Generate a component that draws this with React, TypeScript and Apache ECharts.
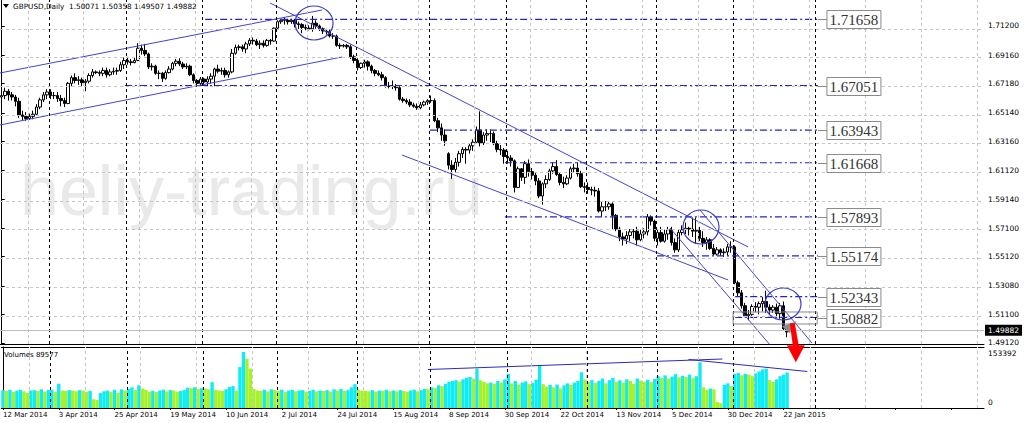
import React, { useEffect, useRef } from 'react';
import * as echarts from 'echarts';

const SYMBOL_TITLE = 'GBPUSD,Daily';
const CLOSED_DAYS = ['2014-12-25', '2015-01-01'];
const MONTH_NAMES = ['Jan', 'Feb', 'Mar', 'Apr', 'May', 'Jun', 'Jul', 'Aug', 'Sep', 'Oct', 'Nov', 'Dec'];
const SLOT_COUNT = 282;
const LABEL_INTERVAL = 15;

// [open, close, low, high]
const candles: number[][] = [
  [1.6625, 1.6635, 1.6590, 1.6660], [1.6635, 1.6665, 1.6610, 1.6690], [1.6665, 1.6640, 1.6600, 1.6680],
  [1.6640, 1.6625, 1.6600, 1.6660], [1.6625, 1.6595, 1.6560, 1.6640], [1.6595, 1.6500, 1.6480, 1.6620],
  [1.6500, 1.6490, 1.6460, 1.6530], [1.6490, 1.6475, 1.6460, 1.6520], [1.6475, 1.6490, 1.6465, 1.6510],
  [1.6490, 1.6505, 1.6470, 1.6530], [1.6505, 1.6555, 1.6500, 1.6575], [1.6555, 1.6605, 1.6540, 1.6620],
  [1.6605, 1.6640, 1.6590, 1.6660], [1.6640, 1.6660, 1.6610, 1.6680], [1.6660, 1.6635, 1.6610, 1.6680],
  [1.6635, 1.6635, 1.6610, 1.6660], [1.6635, 1.6615, 1.6590, 1.6660], [1.6615, 1.6600, 1.6560, 1.6640],
  [1.6600, 1.6580, 1.6555, 1.6620], [1.6580, 1.6720, 1.6575, 1.6730], [1.6720, 1.6760, 1.6700, 1.6775],
  [1.6760, 1.6740, 1.6720, 1.6790], [1.6740, 1.6745, 1.6710, 1.6770], [1.6745, 1.6725, 1.6700, 1.6760],
  [1.6725, 1.6735, 1.6665, 1.6750], [1.6735, 1.6775, 1.6720, 1.6790], [1.6775, 1.6800, 1.6760, 1.6820],
  [1.6800, 1.6795, 1.6785, 1.6810], [1.6795, 1.6790, 1.6770, 1.6810], [1.6790, 1.6810, 1.6770, 1.6830],
  [1.6810, 1.6780, 1.6760, 1.6830], [1.6780, 1.6800, 1.6770, 1.6820], [1.6800, 1.6805, 1.6780, 1.6830],
  [1.6805, 1.6810, 1.6780, 1.6830], [1.6810, 1.6850, 1.6800, 1.6870], [1.6850, 1.6880, 1.6820, 1.6900],
  [1.6880, 1.6870, 1.6850, 1.6905], [1.6870, 1.6865, 1.6845, 1.6890], [1.6865, 1.6880, 1.6860, 1.6900],
  [1.6880, 1.6965, 1.6875, 1.7000], [1.6965, 1.6950, 1.6920, 1.6990], [1.6950, 1.6925, 1.6910, 1.6995],
  [1.6925, 1.6835, 1.6820, 1.6935], [1.6835, 1.6840, 1.6810, 1.6860], [1.6840, 1.6790, 1.6780, 1.6850],
  [1.6790, 1.6790, 1.6750, 1.6810], [1.6790, 1.6755, 1.6730, 1.6800], [1.6755, 1.6795, 1.6745, 1.6810],
  [1.6795, 1.6820, 1.6790, 1.6840], [1.6820, 1.6860, 1.6810, 1.6870], [1.6860, 1.6875, 1.6840, 1.6890],
  [1.6875, 1.6855, 1.6840, 1.6895], [1.6855, 1.6835, 1.6820, 1.6870], [1.6835, 1.6840, 1.6820, 1.6860],
  [1.6840, 1.6780, 1.6770, 1.6850], [1.6780, 1.6740, 1.6720, 1.6790], [1.6740, 1.6720, 1.6695, 1.6750],
  [1.6720, 1.6750, 1.6705, 1.6765], [1.6750, 1.6730, 1.6710, 1.6760], [1.6730, 1.6750, 1.6700, 1.6770],
  [1.6750, 1.6770, 1.6720, 1.6790], [1.6770, 1.6820, 1.6700, 1.6830], [1.6820, 1.6805, 1.6790, 1.6850],
  [1.6805, 1.6810, 1.6780, 1.6830], [1.6810, 1.6780, 1.6760, 1.6830], [1.6780, 1.6800, 1.6760, 1.6810],
  [1.6800, 1.6930, 1.6790, 1.6960], [1.6930, 1.6970, 1.6920, 1.6990], [1.6970, 1.6975, 1.6950, 1.6990],
  [1.6975, 1.6960, 1.6940, 1.6990], [1.6960, 1.6995, 1.6930, 1.7010], [1.6995, 1.7020, 1.6980, 1.7035],
  [1.7020, 1.7015, 1.6990, 1.7040], [1.7015, 1.6990, 1.6980, 1.7030], [1.6990, 1.7000, 1.6960, 1.7020],
  [1.7000, 1.6985, 1.6970, 1.7020], [1.6985, 1.7020, 1.6975, 1.7030], [1.7020, 1.7015, 1.6990, 1.7030],
  [1.7015, 1.7105, 1.7010, 1.7110], [1.7105, 1.7150, 1.7095, 1.7160], [1.7150, 1.7160, 1.7135, 1.7170],
  [1.7160, 1.7160, 1.7130, 1.7180], [1.7160, 1.7150, 1.7130, 1.7170], [1.7150, 1.7160, 1.7135, 1.7170],
  [1.7160, 1.7135, 1.7110, 1.7170], [1.7135, 1.7130, 1.7100, 1.7150], [1.7130, 1.7110, 1.7070, 1.7140],
  [1.7110, 1.7105, 1.7090, 1.7130], [1.7105, 1.7100, 1.7090, 1.7125], [1.7100, 1.7140, 1.7080, 1.7190],
  [1.7140, 1.7120, 1.7100, 1.7160], [1.7120, 1.7100, 1.7085, 1.7130], [1.7100, 1.7085, 1.7065, 1.7110],
  [1.7085, 1.7080, 1.7060, 1.7100], [1.7080, 1.7050, 1.7040, 1.7095], [1.7050, 1.7050, 1.7030, 1.7070],
  [1.7050, 1.6985, 1.6975, 1.7060], [1.6985, 1.6980, 1.6960, 1.7000], [1.6980, 1.6985, 1.6970, 1.6995],
  [1.6985, 1.6975, 1.6960, 1.6995], [1.6975, 1.6905, 1.6890, 1.6990], [1.6905, 1.6880, 1.6860, 1.6920],
  [1.6880, 1.6830, 1.6810, 1.6895], [1.6830, 1.6860, 1.6820, 1.6865], [1.6860, 1.6870, 1.6830, 1.6885],
  [1.6870, 1.6840, 1.6810, 1.6880], [1.6840, 1.6810, 1.6790, 1.6850], [1.6810, 1.6790, 1.6770, 1.6820],
  [1.6790, 1.6780, 1.6770, 1.6810], [1.6780, 1.6760, 1.6740, 1.6800], [1.6760, 1.6700, 1.6690, 1.6770],
  [1.6700, 1.6700, 1.6685, 1.6730], [1.6700, 1.6700, 1.6680, 1.6740], [1.6700, 1.6690, 1.6670, 1.6715],
  [1.6690, 1.6610, 1.6600, 1.6700], [1.6610, 1.6600, 1.6585, 1.6625], [1.6600, 1.6590, 1.6575, 1.6615],
  [1.6590, 1.6570, 1.6555, 1.6610], [1.6570, 1.6560, 1.6550, 1.6585], [1.6560, 1.6550, 1.6535, 1.6580],
  [1.6550, 1.6570, 1.6540, 1.6590], [1.6570, 1.6590, 1.6560, 1.6600], [1.6590, 1.6600, 1.6570, 1.6610],
  [1.6600, 1.6600, 1.6585, 1.6635], [1.6600, 1.6460, 1.6450, 1.6615], [1.6460, 1.6410, 1.6380, 1.6480],
  [1.6410, 1.6360, 1.6320, 1.6440], [1.6360, 1.6320, 1.6285, 1.6400], [1.6230, 1.6150, 1.6120, 1.6240],
  [1.6150, 1.6120, 1.6055, 1.6185], [1.6120, 1.6170, 1.6100, 1.6200], [1.6170, 1.6230, 1.6140, 1.6250],
  [1.6230, 1.6260, 1.6200, 1.6275], [1.6260, 1.6255, 1.6160, 1.6275], [1.6255, 1.6285, 1.6230, 1.6300],
  [1.6285, 1.6310, 1.6250, 1.6330], [1.6310, 1.6395, 1.6300, 1.6420], [1.6395, 1.6305, 1.6280, 1.6525],
  [1.6305, 1.6360, 1.6290, 1.6380], [1.6360, 1.6370, 1.6320, 1.6400], [1.6370, 1.6370, 1.6310, 1.6400],
  [1.6370, 1.6300, 1.6290, 1.6385], [1.6300, 1.6260, 1.6240, 1.6320], [1.6260, 1.6255, 1.6220, 1.6290],
  [1.6255, 1.6210, 1.6160, 1.6270], [1.6210, 1.6200, 1.6160, 1.6250], [1.6200, 1.6180, 1.6140, 1.6220],
  [1.6180, 1.5995, 1.5960, 1.6190], [1.5995, 1.6125, 1.5990, 1.6140], [1.6125, 1.6065, 1.6040, 1.6130],
  [1.6065, 1.6160, 1.6020, 1.6180], [1.6160, 1.6105, 1.6070, 1.6190], [1.6105, 1.6080, 1.6050, 1.6130],
  [1.6080, 1.6040, 1.6010, 1.6100], [1.6040, 1.5935, 1.5920, 1.6060], [1.5935, 1.6020, 1.5875, 1.6030],
  [1.6020, 1.6050, 1.5990, 1.6080], [1.6050, 1.6110, 1.6040, 1.6125], [1.6110, 1.6140, 1.6090, 1.6170],
  [1.6140, 1.6085, 1.6075, 1.6185], [1.6085, 1.6030, 1.6010, 1.6100], [1.6030, 1.6020, 1.5990, 1.6070],
  [1.6020, 1.6060, 1.6010, 1.6080], [1.6060, 1.6125, 1.6050, 1.6140], [1.6125, 1.6130, 1.6100, 1.6160],
  [1.6130, 1.6090, 1.6070, 1.6170], [1.6090, 1.6000, 1.5990, 1.6110], [1.6000, 1.5995, 1.5960, 1.6030],
  [1.5995, 1.5980, 1.5950, 1.6030], [1.5980, 1.5975, 1.5940, 1.6000], [1.5975, 1.5970, 1.5930, 1.6000],
  [1.5970, 1.5830, 1.5820, 1.5990], [1.5830, 1.5860, 1.5790, 1.5900], [1.5860, 1.5860, 1.5830, 1.5900],
  [1.5860, 1.5880, 1.5840, 1.5900], [1.5880, 1.5800, 1.5700, 1.5890], [1.5800, 1.5705, 1.5690, 1.5810],
  [1.5705, 1.5650, 1.5620, 1.5720], [1.5650, 1.5635, 1.5590, 1.5680], [1.5635, 1.5660, 1.5600, 1.5690],
  [1.5660, 1.5685, 1.5620, 1.5705], [1.5685, 1.5690, 1.5640, 1.5705], [1.5690, 1.5630, 1.5590, 1.5720],
  [1.5630, 1.5670, 1.5620, 1.5700], [1.5670, 1.5685, 1.5640, 1.5710], [1.5685, 1.5790, 1.5660, 1.5810],
  [1.5790, 1.5760, 1.5730, 1.5800], [1.5760, 1.5640, 1.5620, 1.5770], [1.5640, 1.5680, 1.5590, 1.5700],
  [1.5680, 1.5620, 1.5610, 1.5720], [1.5620, 1.5670, 1.5610, 1.5700], [1.5670, 1.5700, 1.5630, 1.5720],
  [1.5700, 1.5610, 1.5590, 1.5720], [1.5610, 1.5560, 1.5540, 1.5640], [1.5560, 1.5680, 1.5545, 1.5700],
  [1.5680, 1.5700, 1.5660, 1.5730], [1.5700, 1.5710, 1.5670, 1.5750], [1.5710, 1.5705, 1.5660, 1.5720],
  [1.5705, 1.5690, 1.5650, 1.5785], [1.5690, 1.5695, 1.5600, 1.5785], [1.5695, 1.5640, 1.5620, 1.5720],
  [1.5640, 1.5610, 1.5580, 1.5690], [1.5610, 1.5630, 1.5560, 1.5650], [1.5630, 1.5570, 1.5560, 1.5640],
  [1.5570, 1.5530, 1.5520, 1.5600], [1.5530, 1.5560, 1.5520, 1.5580], [1.5560, 1.5540, 1.5520, 1.5570],
  [1.5540, 1.5545, 1.5510, 1.5570], [1.5545, 1.5580, 1.5520, 1.5600], [1.5580, 1.5580, 1.5540, 1.5620],
  [1.5580, 1.5330, 1.5320, 1.5590], [1.5330, 1.5260, 1.5230, 1.5345], [1.5260, 1.5170, 1.5150, 1.5280],
  [1.5170, 1.5100, 1.5090, 1.5190], [1.5100, 1.5110, 1.5070, 1.5140], [1.5110, 1.5165, 1.5100, 1.5180],
  [1.5165, 1.5160, 1.5125, 1.5195], [1.5160, 1.5185, 1.5110, 1.5200], [1.5185, 1.5200, 1.5130, 1.5230],
  [1.5200, 1.5160, 1.5120, 1.5275], [1.5160, 1.5140, 1.5110, 1.5180], [1.5140, 1.5160, 1.5120, 1.5175],
  [1.5160, 1.5115, 1.5090, 1.5185], [1.5115, 1.5170, 1.5080, 1.5190], [1.5170, 1.5010, 1.5000, 1.5200],
  [1.50071, 1.49882, 1.49507, 1.50358],
];

const volumes: number[] = [
  45000, 43000, 46000, 40000, 44000, 46000, 42000, 38000, 44000, 45000,
  43000, 47000, 41000, 45000, 46000, 40000, 61000, 44000, 43000, 45000,
  44000, 42000, 45000, 44000, 41000, 43000, 22000, 20000, 38000, 42000,
  44000, 40000, 46000, 38000, 47000, 44000, 48000, 52000, 45000, 57000,
  49000, 46000, 41000, 43000, 40000, 44000, 46000, 42000, 45000, 44000,
  41000, 43000, 45000, 51000, 50000, 52000, 48000, 50000, 49000, 47000,
  65000, 46000, 44000, 43000, 47000, 53000, 55000, 44000, 103000, 141000,
  124000, 99000, 48000, 44000, 43000, 46000, 42000, 47000, 45000, 43000,
  46000, 40000, 44000, 46000, 42000, 44000, 45000, 41000, 43000, 46000,
  42000, 44000, 43000, 45000, 41000, 47000, 44000, 48000, 43000, 45000,
  52000, 60000, 46000, 44000, 43000, 42000, 45000, 41000, 44000, 43000,
  46000, 42000, 44000, 42000, 45000, 43000, 41000, 44000, 46000, 42000,
  45000, 48000, 47000, 52000, 50000, 57000, 55000, 61000, 66000, 68000,
  70000, 66000, 72000, 76000, 78000, 74000, 99000, 70000, 66000, 62000,
  64000, 61000, 68000, 64000, 72000, 86000, 62000, 68000, 58000, 64000,
  67000, 60000, 63000, 71000, 107000, 60000, 54000, 58000, 52000, 59000,
  49000, 57000, 62000, 58000, 64000, 68000, 90000, 72000, 65000, 70000,
  63000, 68000, 74000, 62000, 70000, 76000, 66000, 70000, 64000, 72000,
  68000, 61000, 74000, 69000, 66000, 71000, 65000, 73000, 80000, 76000,
  82000, 74000, 79000, 85000, 77000, 81000, 78000, 84000, 76000, 80000,
  115000, 52000, 46000, 49000, 47000, 15000, 12000, 58000, 62000, 55000,
  86000, 88000, 82000, 86000, 84000, 80000, 87000, 92000, 97000, 99000,
  70000, 66000, 72000, 80000, 84000, 89577,
];

const lastQuote = [1.50071, 1.50358, 1.49507, 1.49882]; // O H L C
const priceTicks = [1.712, 1.6916, 1.6718, 1.6514, 1.6316, 1.6112, 1.5914, 1.571, 1.5512, 1.5308, 1.511, 1.4912];
const priceMin = 1.49035;
const priceMax = 1.73012;
const volumeTicks = [0, 153392];

const levelPrices = [1.71658, 1.67051, 1.63943, 1.61668, 1.57893, 1.55174, 1.52343, 1.50882];
const levelStartBars = [58.3, 35.3, 122.7, 144.2, 144.2, 187.8, 210.2, 210.2];
const levelEndBar = 233.9;

const trendLines: number[][][] = [
  [[-0.5, 1.67924], [91.8, 1.72315]],
  [[-0.5, 1.643], [97.5, 1.69039]],
  [[76.9, 1.72803], [213.9, 1.55796]],
  [[114.7, 1.62209], [208.2, 1.53496]],
  [[200.1, 1.58375], [232.2, 1.49105]],
  [[191.5, 1.57121], [220.2, 1.48966]],
];
const volumeTrendLines: number[][][] = [
  [[121.9, 96800], [206.4, 123200]],
  [[196.7, 122000], [230.8, 91800]],
];
const circleCenters = [[89.5, 1.71409], [200.4, 1.5719], [223.9, 1.51823]];
const circleRadii = [[19, 17], [18, 17], [18, 16]];
const zoneCorners = [[209.6, 1.51266], [233.7, 1.5043]];
const monthStartBars = [14, 36, 58, 79, 102, 123, 145, 168, 188, 210, 233.4];
const gridFirstBar = 7.5;
const gridStep = 16;

function buildDays(count: number): string[] {
  const out: string[] = [];
  const d = new Date(Date.UTC(2014, 2, 12));
  while (out.length < count) {
    const wd = d.getUTCDay();
    const iso = d.toISOString().slice(0, 10);
    if (wd !== 0 && wd !== 6 && !CLOSED_DAYS.includes(iso)) {
      out.push(`${d.getUTCDate()} ${MONTH_NAMES[d.getUTCMonth()]} ${d.getUTCFullYear()}`);
    }
    d.setUTCDate(d.getUTCDate() + 1);
  }
  return out;
}

const AXIS_FONT = '"DejaVu Sans", sans-serif';

export default function App() {
  const ref = useRef<HTMLDivElement>(null);
  useEffect(() => {
    const el = ref.current!;
    const chart = echarts.init(el, undefined, { renderer: 'svg' });
    const days = buildDays(SLOT_COUNT);
    const lastIdx = candles.length - 1;

    const gridBars: number[] = [];
    for (let b = gridFirstBar; b < SLOT_COUNT - 0.5; b += gridStep) gridBars.push(b);

    const grayDash = { color: '#c4c4c4', type: [3, 3], width: 1 };
    const sepDash = { color: '#000', type: [3, 3], width: 1 };

    const mainMarks: any[] = [
      ...priceTicks.map((v) => ({ yAxis: v, lineStyle: grayDash })),
      ...gridBars.map((b) => ({ xAxis: b, lineStyle: grayDash })),
      ...monthStartBars.map((b) => ({ xAxis: b - 0.4, lineStyle: sepDash })),
      {
        yAxis: lastQuote[3],
        lineStyle: { color: '#bdbdbd', type: 'solid', width: 1 },
        label: {
          show: true, position: 'end', formatter: lastQuote[3].toFixed(5),
          backgroundColor: '#000', color: '#fff', fontSize: 7.5, fontFamily: AXIS_FONT,
          padding: [2, 3, 1, 3], distance: 1,
        },
      },
    ];
    const volMarks: any[] = [
      ...gridBars.map((b) => ({ xAxis: b, lineStyle: grayDash })),
      ...monthStartBars.map((b) => ({ xAxis: b - 0.4, lineStyle: sepDash })),
    ];

    const lineBase = { type: 'line', symbol: 'none', silent: true, animation: false };

    const option: any = {
      animation: false,
      backgroundColor: '#fff',
      grid: [
        { left: 0, top: 0, width: 984, height: 344 },
        { left: 0, top: 347, width: 984, height: 61 },
      ],
      xAxis: [
        { type: 'category', gridIndex: 0, data: days, axisLine: { show: true, lineStyle: { color: '#000' } }, axisTick: { show: false }, axisLabel: { show: false }, splitLine: { show: false } },
        { type: 'value', gridIndex: 0, min: -0.5, max: SLOT_COUNT - 0.5, show: false },
        {
          type: 'category', gridIndex: 1, data: days,
          axisLine: { show: true, lineStyle: { color: '#000' } },
          axisTick: { show: true, interval: LABEL_INTERVAL, alignWithLabel: true, length: 2, lineStyle: { color: '#000' } },
          axisLabel: {
            interval: LABEL_INTERVAL, align: 'left', fontSize: 7, fontFamily: AXIS_FONT, color: '#000', margin: 3,
            formatter: (v: string, i: number) => (i <= lastIdx ? v : ''),
          },
          splitLine: { show: false },
        },
        {
          type: 'value', gridIndex: 1, min: -0.5, max: SLOT_COUNT - 0.5, position: 'top',
          axisLine: { show: true, lineStyle: { color: '#000' } }, axisTick: { show: false }, axisLabel: { show: false }, splitLine: { show: false },
        },
      ],
      yAxis: [
        {
          type: 'value', gridIndex: 0, position: 'right', min: priceMin, max: priceMax,
          axisLine: { show: true, lineStyle: { color: '#000' } },
          axisTick: { show: true, customValues: priceTicks, length: 3, lineStyle: { color: '#000' } },
          axisLabel: { customValues: priceTicks, formatter: (v: number) => v.toFixed(5), fontSize: 7.5, fontFamily: AXIS_FONT, color: '#000', margin: 4 },
          splitLine: { show: false },
        },
        {
          type: 'value', gridIndex: 1, position: 'right', min: volumeTicks[0], max: volumeTicks[1],
          axisLine: { show: true, lineStyle: { color: '#000' } },
          axisTick: { show: false },
          axisLabel: {
            customValues: volumeTicks, margin: 4,
            formatter: (v: number) => (v === 0 ? '{lo|0}' : `{hi|${v}}`),
            rich: {
              lo: { fontSize: 7.5, fontFamily: AXIS_FONT, color: '#000', padding: [0, 0, 12, 0] },
              hi: { fontSize: 7.5, fontFamily: AXIS_FONT, color: '#000', padding: [13, 0, 0, 0] },
            },
          },
          splitLine: { show: false },
        },
      ],
      series: [
        {
          ...lineBase, name: 'mainGrid', xAxisIndex: 1, yAxisIndex: 0, z: 1,
          data: [[0, 1.6]], lineStyle: { opacity: 0 },
          markLine: { symbol: 'none', silent: true, animation: false, label: { show: false }, data: mainMarks },
        },
        {
          type: 'candlestick', name: 'GBPUSD', xAxisIndex: 0, yAxisIndex: 0, z: 3, barWidth: 3,
          data: candles,
          itemStyle: { color: '#ffffff', color0: '#000000', borderColor: '#000000', borderColor0: '#000000', borderColorDoji: '#000000', borderWidth: 1 },
        },
        ...levelPrices.map((p, k) => ({
          ...lineBase, name: `level${k}`, xAxisIndex: 1, yAxisIndex: 0, z: 4,
          data: [[levelStartBars[k], p], [levelEndBar, p]],
          lineStyle: { color: '#2424c4', width: 1.2, type: [7, 3, 2, 3] },
        })),
        ...trendLines.map((seg, k) => ({
          ...lineBase, name: `trend${k}`, xAxisIndex: 1, yAxisIndex: 0, z: 4,
          data: seg, lineStyle: { color: '#4444c8', width: 1 },
        })),
        {
          ...lineBase, name: 'volGrid', xAxisIndex: 3, yAxisIndex: 1, z: 1,
          data: [[0, 0]], lineStyle: { opacity: 0 },
          markLine: { symbol: 'none', silent: true, animation: false, label: { show: false }, data: volMarks },
        },
        {
          type: 'bar', name: 'Volumes', xAxisIndex: 2, yAxisIndex: 1, z: 2, barWidth: 3.4,
          data: volumes.map((v, i) => ({
            value: v,
            itemStyle: { color: i === 0 || v > volumes[i - 1] ? '#10ecf6' : '#a6f02c' },
          })),
        },
        ...volumeTrendLines.map((seg, k) => ({
          ...lineBase, name: `vtrend${k}`, xAxisIndex: 3, yAxisIndex: 1, z: 4,
          data: seg, lineStyle: { color: '#2a2abf', width: 1 },
        })),
      ],
    };
    chart.setOption(option);

    const px = (b: number, p: number) => chart.convertToPixel({ xAxisIndex: 1, yAxisIndex: 0 } as any, [b, p]) as number[];

    const graphics: any[] = [];
    graphics.push({
      type: 'text', silent: true, z: -10,
      style: { text: 'heliy-trading.ru', x: 20, y: 191, font: '70px "Liberation Sans"', fill: '#e9e9e9', verticalAlign: 'middle' },
    });
    graphics.push({ type: 'polygon', silent: true, z: 100, shape: { points: [[3, 4], [9, 4], [6, 8]] }, style: { fill: '#000' } });
    graphics.push({
      type: 'text', silent: true, z: 100,
      style: { text: `${SYMBOL_TITLE}  ${lastQuote.map((v) => v.toFixed(5)).join(' ')}`, x: 13, y: 6.5, font: `7.3px ${AXIS_FONT}`, fill: '#000', verticalAlign: 'middle' },
    });
    graphics.push({
      type: 'text', silent: true, z: 100,
      style: { text: `Volumes ${volumes[volumes.length - 1]}`, x: 4, y: 355, font: `7px ${AXIS_FONT}`, fill: '#000', verticalAlign: 'middle' },
    });
    circleCenters.forEach((c, k) => {
      const [cx, cy] = px(c[0], c[1]);
      graphics.push({
        type: 'ellipse', silent: true, z: 100,
        shape: { cx, cy, rx: circleRadii[k][0], ry: circleRadii[k][1] },
        style: { fill: 'none', stroke: '#3c3cc8', lineWidth: 1.2 },
      });
    });
    const [zx1, zy1] = px(zoneCorners[0][0], zoneCorners[0][1]);
    const [zx2, zy2] = px(zoneCorners[1][0], zoneCorners[1][1]);
    graphics.push({
      type: 'rect', silent: true, z: 99,
      shape: { x: zx1, y: zy1, width: zx2 - zx1, height: zy2 - zy1 },
      style: { fill: 'none', stroke: '#8a8a8a', lineWidth: 1 },
    });
    const endX = px(levelEndBar, levelPrices[0])[0];
    levelPrices.forEach((p) => {
      const cy = Math.round(px(0, p)[1]) + 0.5;
      graphics.push({ type: 'line', silent: true, z: 100, shape: { x1: endX, y1: cy, x2: endX + 9, y2: cy }, style: { stroke: '#8a8a8a', lineWidth: 1 } });
      graphics.push({
        type: 'rect', silent: true, z: 100,
        shape: { x: endX + 9, y: cy - 9, width: 54, height: 18 },
        style: { fill: '#fff', stroke: '#8a8a8a', lineWidth: 1 },
      });
      graphics.push({
        type: 'text', silent: true, z: 101,
        style: { text: p.toFixed(5), x: endX + 36, y: cy + 0.5, font: '15px "Liberation Serif"', fill: '#333', align: 'center', verticalAlign: 'middle' },
      });
    });
    const [ax, ay] = px(lastIdx, lastQuote[0]);
    graphics.push({
      type: 'polygon', silent: true, z: 98,
      shape: { points: [[ax - 5, ay - 3], [ax + 10, ay - 8], [ax + 3, ay + 4]] },
      style: { fill: '#8c8c8c' },
    });
    graphics.push({
      type: 'polygon', silent: true, z: 102,
      shape: { points: [[ax + 3, ay - 6], [ax + 8, ay - 6], [ax + 12, ay + 17], [ax + 6, ay + 17]] },
      style: { fill: '#ff0000' },
    });
    graphics.push({
      type: 'polygon', silent: true, z: 102,
      shape: { points: [[ax, ay + 16], [ax + 18, ay + 16], [ax + 9, ay + 33]] },
      style: { fill: '#ff0000' },
    });
    chart.setOption({ graphic: graphics });

    return () => chart.dispose();
  }, []);
  return <div ref={ref} style={{ position: 'absolute', left: 0, top: 0, width: 1024, height: 423, background: '#fff' }} />;
}
